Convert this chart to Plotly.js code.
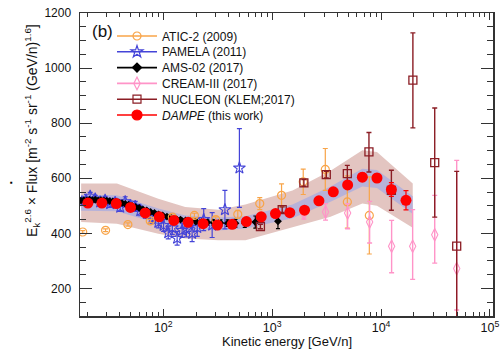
<!DOCTYPE html>
<html><head><meta charset="utf-8">
<script src="https://cdn.plot.ly/plotly-3.0.1.min.js"></script>
<style>html,body{margin:0;padding:0;background:#fff}#chart{width:500px;height:362px}</style>
</head><body><div id="chart"></div>
<script>
// ---- data (kinetic energy GeV/n, E^2.6 x flux) ----
const atic_E   = [18.2, 29.5, 47.3, 75.9, 121, 193, 303, 483, 769, 1219, 1928, 3075, 4900, 7800];
const atic_F   = [405, 411, 432, 445, 459, 465, 450, 469, 508, 538, 587, 632, 514, 465];
const atic_err = [5, 5, 6, 6, 7, 8, 10, 15, 22, 42, 46, 76, 95, 140];

const pam_E   = [17.9, 19.6, 21.3, 23.7, 26.3, 29.2, 32.5, 36.1, 40.2, 44.7, 49.7, 55.2, 61.4, 70.8, 79.3, 90, 100.6, 111, 121, 134, 149, 163, 184, 205, 235, 281, 368, 500];
const pam_F   = [514, 520, 535, 525, 514, 520, 508, 512, 495, 515, 500, 498, 482, 472, 455, 440, 429, 402, 420, 382, 411, 415, 400, 421, 450, 430, 486, 637];
const pam_err = [12, 12, 14, 13, 13, 14, 14, 15, 15, 18, 17, 18, 18, 18, 20, 20, 22, 22, 24, 25, 26, 28, 30, 32, 40, 45, 70, 143];

const ams_E   = [17.5, 18.6, 19.8, 21, 22.3, 23.7, 25.2, 26.8, 28.5, 30.3, 32.2, 34.3, 36.6, 39.1, 41.8, 44.8, 48.1, 51.7, 55.7, 60.1, 65, 70.4, 76.4, 83, 90.4, 98.7, 108, 118.5, 130.5, 144, 160, 178, 199, 224, 254, 290, 335, 390, 460, 560, 700, 1130];
const ams_F   = [519, 521, 520, 522, 521, 522, 520, 521, 519, 519, 517, 516, 514, 512, 510, 507, 504, 500, 496, 492, 487, 483, 478, 474, 469, 465, 461, 457, 453, 450, 447, 445, 443, 441, 440, 439, 438, 437, 437, 438, 441, 444];
const ams_err = [4, 4, 4, 4, 4, 4, 4, 4, 4, 4, 4, 4, 4, 4, 4, 4, 4, 4, 4, 4, 4, 4, 4, 4, 4, 5, 5, 5, 6, 6, 7, 7, 8, 8, 9, 10, 11, 12, 14, 16, 22, 27];

const cream_E  = [1955, 3090, 4930, 7850, 12500, 19500, 31100, 49500];
const cream_F  = [472, 478, 474, 441, 353, 353, 395, 272];
const cream_up = [20, 30, 34, 75, 94, 133, 143, 393];
const cream_dn = [20, 30, 57, 76, 96, 120, 103, 150];

const nuc_E  = [780, 1236, 1955, 3140, 4900, 7740, 12440, 19600, 31100, 49500];
const nuc_F  = [425, 486, 583, 613, 617, 696, 556, 956, 657, 354];
const nuc_up = [8, 10, 12, 12, 30, 70, 73, 172, 198, 271];
const nuc_dn = [8, 10, 12, 12, 30, 73, 72, 173, 198, 300];

const dampe_E   = [20.3, 27.3, 37, 50, 68.2, 91.9, 125, 169, 232, 314, 429, 580, 793, 1072, 1452, 1982, 2686, 3640, 4932, 6730, 9170, 12440, 16940];
const dampe_F   = [510, 510, 508, 494, 474, 460, 447, 440, 435, 430, 433, 443, 460, 472, 475, 484, 518, 551, 576, 604, 601, 559, 520];
const dampe_err = [3, 3, 3, 3, 3, 3, 3, 3, 3, 3, 4, 4, 5, 5, 6, 7, 8, 9, 11, 15, 15, 25, 35];

// uncertainty bands
const band_E  = [17.6, 37.5, 90, 159, 321, 568, 1537, 3436, 6730, 9170, 19540];
const sys_hi  = [581, 581, 526, 496, 486, 505, 556, 627, 702, 695, 581];
const sys_lo  = [441, 435, 399, 381, 375, 375, 422, 460, 508, 500, 420];
const stat_hi = [540, 538, 490, 465, 458, 462, 505, 570, 635, 630, 535];
const stat_lo = [482, 480, 435, 418, 410, 418, 455, 515, 570, 565, 470];

const names = ['ATIC-2 (2009)', 'PAMELA (2011)', 'AMS-02 (2017)', 'CREAM-III (2017)', 'NUCLEON (KLEM;2017)', '<i>DAMPE</i> (this work)'];

// ---- styles ----
const FONT = 'Arial, "Liberation Sans", Helvetica, sans-serif';
const C_ATIC = '#f8a448', C_PAM = '#4444d8', C_AMS = '#000000', C_CREAM = '#ff94c8', C_NUC = '#8b1d24', C_DAMPE = '#ff0000';

function poly(E, hi, lo) {
  return { x: E.concat(E.slice().reverse()), y: hi.concat(lo.slice().reverse()) };
}
const sysP = poly(band_E, sys_hi, sys_lo);
const statP = poly(band_E, stat_hi, stat_lo);

function errs(arr, color, w) {
  return { type: 'data', array: arr, color: color, thickness: 1.2, width: w };
}
function errsA(up, dn, color, w) {
  return { type: 'data', symmetric: false, array: up, arrayminus: dn, color: color, thickness: 1.4, width: w };
}

const traces = [
  { x: sysP.x, y: sysP.y, mode: 'lines', fill: 'toself', fillcolor: '#e3c5c1', line: { width: 0 }, hoverinfo: 'skip', showlegend: false },
  { x: statP.x, y: statP.y, mode: 'lines', fill: 'toself', fillcolor: '#b7b2d9', line: { width: 0 }, hoverinfo: 'skip', showlegend: false },
  { x: pam_E, y: pam_F, mode: 'markers', showlegend: false,
    marker: { symbol: 'star-open', size: 9, color: C_PAM, line: { width: 1.1, color: C_PAM } },
    error_y: errs(pam_err, C_PAM, 2.5) },
  { x: ams_E, y: ams_F, mode: 'markers', showlegend: false,
    marker: { symbol: 'diamond', size: 6, color: C_AMS },
    error_y: errs(ams_err, C_AMS, 2) },
  { x: atic_E, y: atic_F, mode: 'markers', showlegend: false,
    marker: { symbol: 'circle-open', size: 8, color: C_ATIC, line: { width: 1.2, color: C_ATIC } },
    error_y: errs(atic_err, C_ATIC, 2.5) },
  { x: cream_E, y: cream_F, mode: 'markers', showlegend: false,
    marker: { symbol: 'diamond-tall-open', size: 9, color: C_CREAM, line: { width: 1.1, color: C_CREAM } },
    error_y: errsA(cream_up, cream_dn, C_CREAM, 2.5) },
  { x: nuc_E, y: nuc_F, mode: 'markers', showlegend: false,
    marker: { symbol: 'square-open', size: 8, color: C_NUC, line: { width: 1.3, color: C_NUC } },
    error_y: errsA(nuc_up, nuc_dn, C_NUC, 2.5) },
  { x: dampe_E, y: dampe_F, mode: 'markers', showlegend: false,
    marker: { symbol: 'circle', size: 11, color: C_DAMPE },
    error_y: errs(dampe_err, C_DAMPE, 2.5) }
];

// legend entries: one legend per row so the row spacing matches the figure
const legStyles = [
  { c: C_ATIC, s: 'circle-open', z: 8 },
  { c: C_PAM, s: 'star-open', z: 9 },
  { c: C_AMS, s: 'diamond', z: 7 },
  { c: C_CREAM, s: 'diamond-tall-open', z: 9 },
  { c: C_NUC, s: 'square-open', z: 8 },
  { c: C_DAMPE, s: 'circle', z: 10 }
];
const legIds = ['legend', 'legend2', 'legend3', 'legend4', 'legend5', 'legend6'];
const rowPx = [36, 51.8, 67.6, 83.4, 99.2, 115];
const plotH = 303, plotW = 413;

const layout = {
  width: 500, height: 362,
  margin: { l: 80, r: 7, t: 13, b: 46 },
  paper_bgcolor: '#fff', plot_bgcolor: '#fff',
  font: { family: FONT, color: '#111' },
  showlegend: true,
  xaxis: {
    showline: true, linecolor: '#333', linewidth: 1.5, mirror: 'ticks',
    ticks: 'inside', tickcolor: '#333', showgrid: false, zeroline: false,
    type: 'log', range: [1.235, 5.028], dtick: 1, exponentformat: 'power', showexponent: 'all',
    ticklen: 7, tickfont: { family: FONT, size: 10, color: '#111' },
    minor: { ticks: 'inside', ticklen: 4, tickcolor: '#333', dtick: 'D1', showgrid: false },
    automargin: false
  },
  yaxis: {
    showline: true, linecolor: '#333', linewidth: 1.5, mirror: 'ticks',
    ticks: 'inside', tickcolor: '#333', showgrid: false, zeroline: false,
    range: [100, 1200], dtick: 200, tick0: 0, ticklen: 12,
    tickfont: { family: FONT, size: 12, color: '#111' }, ticklabelstandoff: 5,
    minor: { ticks: 'inside', ticklen: 6, tickcolor: '#333', dtick: 50, showgrid: false },
    automargin: false
  },
  annotations: [
    { xref: 'paper', yref: 'paper', x: (102 - 80) / plotW, y: (316 - 31) / plotH, xanchor: 'center', yanchor: 'middle',
      text: '(b)', showarrow: false, font: { family: FONT, size: 17, color: '#111' } },
    { xref: 'paper', yref: 'paper', x: (287 - 80) / plotW, y: (316 - 341) / plotH, xanchor: 'center', yanchor: 'middle',
      text: 'Kinetic energy [GeV/n]', showarrow: false, font: { family: FONT, size: 13, color: '#111' } },
    { xref: 'paper', yref: 'paper', x: (32 - 80) / plotW, y: (316 - 131) / plotH, xanchor: 'center', yanchor: 'middle',
      textangle: -90, showarrow: false,
      text: 'E<sub>k</sub><sup>2.6</sup> × Flux [m<sup>-2</sup> s<sup>-1</sup> sr<sup>-1</sup> (GeV/n)<sup>1.6</sup>]',
      font: { family: FONT, size: 14, color: '#111' } },
    { xref: 'paper', yref: 'paper', x: (11 - 80) / plotW, y: (316 - 182) / plotH, xanchor: 'center', yanchor: 'middle',
      text: '▪', showarrow: false, font: { family: FONT, size: 8, color: '#000' } }
  ]
};

names.forEach((n, i) => {
  const st = legStyles[i];
  traces.push({ x: [null], y: [null], name: n, mode: 'lines+markers', showlegend: true, legend: legIds[i],
    line: { color: st.c, width: 1.6 },
    marker: { symbol: st.s, size: st.z, color: st.c, line: { width: 1.2, color: st.c } } });
  layout[legIds[i]] = {
    x: (112 - 80) / plotW, y: (316 - rowPx[i]) / plotH, xanchor: 'left', yanchor: 'middle',
    bgcolor: 'rgba(0,0,0,0)', borderwidth: 0, itemwidth: 40,
    font: { family: FONT, size: 12, color: '#111' }
  };
});

Plotly.newPlot('chart', traces, layout, { displayModeBar: false, staticPlot: true });
</script>
</body></html>
